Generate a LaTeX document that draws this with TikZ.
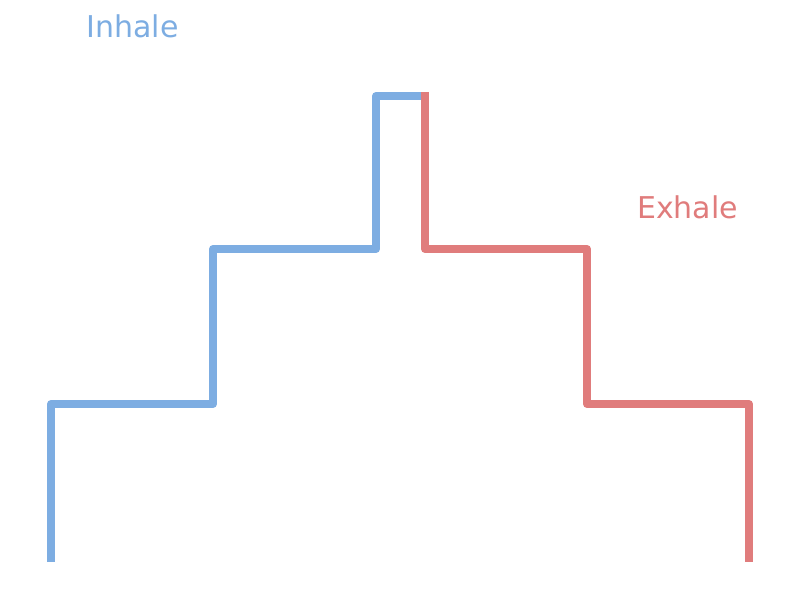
\documentclass[tikz,border=0pt]{standalone}
\usepackage{fontspec}
\setmainfont{DejaVu Sans}
\usepackage{xcolor}
\usepackage{tikz}
\definecolor{inhaleblue}{RGB}{125,173,226}
\definecolor{exhalered}{RGB}{224,124,124}

\begin{document}
\begin{tikzpicture}[x=1pt, y=1pt,
  stair/.style={line width=8pt, line join=round},
  breathtext/.style={font=\fontsize{30}{36}\selectfont, anchor=base}]
  \useasboundingbox (0,0) rectangle (800,597);
  % breathing in, step by step
  \draw[stair, inhaleblue] (51,35) |- (213,193) |- (376,348) |- (425,501);
  % breathing out
  \draw[stair, exhalered] (425,505) |- (587,348) |- (749,193) -- (749,35);

  \node[breathtext, text=inhaleblue] (inhale) at (132.5,559) {Inhale};
  \node[breathtext, text=exhalered] (exhale) at (687.5,378) {Exhale};
\end{tikzpicture}
\end{document}
